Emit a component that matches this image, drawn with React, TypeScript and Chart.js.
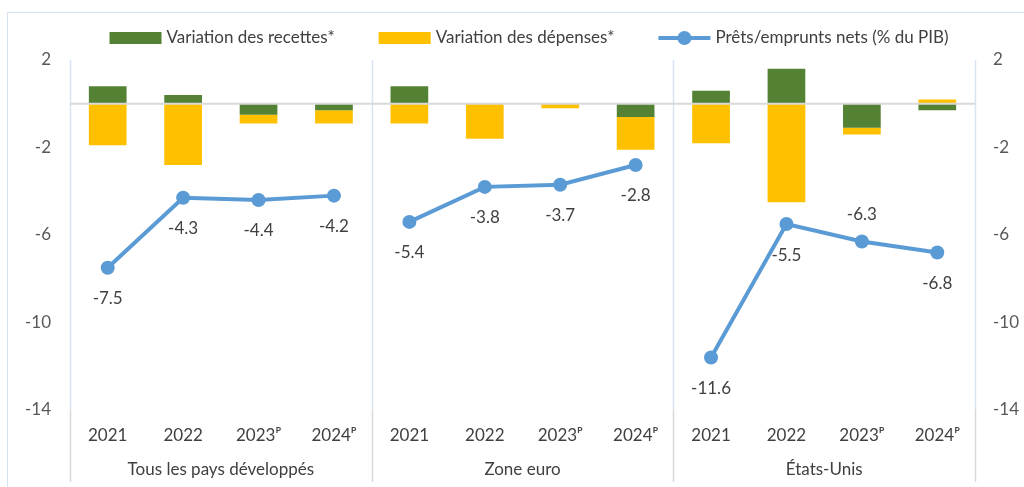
import React, { useEffect, useRef } from "react";
import { Chart, registerables } from "chart.js";

Chart.register(...registerables);

const groups = ["Tous les pays développés", "Zone euro", "États-Unis"];
const years = ["2021", "2022", "2023ᴾ", "2024ᴾ"];
const revenueChange = [0.8, 0.4, -0.5, -0.3, 0.8, 0.0, 0.0, -0.6, 0.6, 1.6, -1.1, -0.3];
const spendingChange = [-1.9, -2.8, -0.4, -0.6, -0.9, -1.6, -0.2, -1.5, -1.8, -4.5, -0.3, 0.2];
const netLending = [-7.5, -4.3, -4.4, -4.2, -5.4, -3.8, -3.7, -2.8, -11.6, -5.5, -6.3, -6.8];
const labelAbove = [false, false, false, false, false, false, false, false, false, false, true, false];
const seriesNames = ["Variation des recettes*", "Variation des dépenses*", "Prêts/emprunts nets (% du PIB)"];
const yMin = -14;
const yMax = 2;
const yStep = 4;

const GREEN = "#548235";
const YELLOW = "#FFC000";
const BLUE = "#5B9BD5";
const TEXT = "#404040";
const FONT = "Lato";
const FS = 17;

const categories = groups.flatMap(() => years);

const decorPlugin = {
  id: "decor",
  beforeDraw(chart: any) {
    const { ctx } = chart;
    ctx.save();
    ctx.strokeStyle = "#D6E2F2";
    ctx.lineWidth = 1;
    ctx.strokeRect(7.5, 12.5, 1200, 1000);
    ctx.restore();
  },
  beforeDatasetsDraw(chart: any) {
    const { ctx, chartArea, scales } = chart;
    const x = scales.x;
    const bounds: number[] = [chartArea.left];
    for (let g = 1; g < groups.length; g++) {
      const i = g * years.length;
      bounds.push((x.getPixelForValue(i - 1) + x.getPixelForValue(i)) / 2);
    }
    bounds.push(chartArea.right);
    ctx.save();
    bounds.forEach((bx) => {
      const px = Math.round(bx) + 0.5;
      ctx.strokeStyle = "#D6E4F3";
      ctx.lineWidth = 1.5;
      ctx.beginPath();
      ctx.moveTo(px, chartArea.top);
      ctx.lineTo(px, chartArea.bottom);
      ctx.stroke();
      ctx.strokeStyle = "#D9D9D9";
      ctx.beginPath();
      ctx.moveTo(px, chartArea.bottom);
      ctx.lineTo(px, chartArea.bottom + 72);
      ctx.stroke();
    });
    ctx.restore();
  },
  afterDatasetsDraw(chart: any) {
    const { ctx, chartArea, scales } = chart;
    const y0 = scales.y.getPixelForValue(0);
    ctx.save();
    ctx.strokeStyle = "#D9D9D9";
    ctx.lineWidth = 2;
    ctx.beginPath();
    ctx.moveTo(chartArea.left, y0);
    ctx.lineTo(chartArea.right, y0);
    ctx.stroke();

    // data labels for the line
    const meta = chart.getDatasetMeta(2);
    ctx.font = `${FS}px ${FONT}`;
    ctx.fillStyle = TEXT;
    ctx.textAlign = "center";
    ctx.textBaseline = "middle";
    meta.data.forEach((pt: any, i: number) => {
      const v = netLending[i];
      const dy = labelAbove[i] ? -27 : 31;
      ctx.fillText(v.toFixed(1), pt.x, pt.y + dy);
    });
    ctx.restore();
  },
  afterDraw(chart: any) {
    const { ctx, chartArea, scales } = chart;
    const x = scales.x;
    ctx.save();
    ctx.font = `${FS}px ${FONT}`;
    ctx.fillStyle = TEXT;
    ctx.textAlign = "center";
    ctx.textBaseline = "middle";
    groups.forEach((g, gi) => {
      const a = x.getPixelForValue(gi * years.length);
      const b = x.getPixelForValue(gi * years.length + years.length - 1);
      ctx.fillText(g, (a + b) / 2, chartArea.bottom + 60);
    });

    // legend
    const boxW = 52;
    const gapIn = 5;
    const gapOut = 44;
    const widths = seriesNames.map((s) => ctx.measureText(s).width);
    const total = widths.reduce((s, w) => s + w + boxW + gapIn, 0) + gapOut * (seriesNames.length - 1);
    let cx = 529 - total / 2;
    const ly = 38;
    ctx.textAlign = "left";
    seriesNames.forEach((s, i) => {
      if (i < 2) {
        ctx.fillStyle = i === 0 ? GREEN : YELLOW;
        ctx.fillRect(cx, ly - 6, boxW, 12);
      } else {
        ctx.strokeStyle = BLUE;
        ctx.lineWidth = 4;
        ctx.beginPath();
        ctx.moveTo(cx, ly);
        ctx.lineTo(cx + boxW, ly);
        ctx.stroke();
        ctx.fillStyle = BLUE;
        ctx.beginPath();
        ctx.arc(cx + boxW / 2, ly, 7, 0, Math.PI * 2);
        ctx.fill();
      }
      ctx.fillStyle = TEXT;
      ctx.fillText(s, cx + boxW + gapIn, ly);
      cx += boxW + gapIn + widths[i] + gapOut;
    });
    ctx.restore();
  },
};

export default function App() {
  const ref = useRef<HTMLCanvasElement>(null);
  useEffect(() => {
    if (!ref.current) return;
    const chart = new Chart(ref.current, {
      type: "bar",
      data: {
        labels: categories,
        datasets: [
          {
            type: "bar",
            label: seriesNames[0],
            data: revenueChange,
            backgroundColor: GREEN,
            stack: "bars",
            order: 1,
            yAxisID: "y",
            categoryPercentage: 0.5,
            barPercentage: 1,
          } as any,
          {
            type: "bar",
            label: seriesNames[1],
            data: spendingChange,
            backgroundColor: YELLOW,
            stack: "bars",
            order: 2,
            yAxisID: "y",
            categoryPercentage: 0.5,
            barPercentage: 1,
          } as any,
          {
            type: "line",
            label: seriesNames[2],
            data: netLending,
            borderColor: BLUE,
            backgroundColor: BLUE,
            borderWidth: 4,
            pointRadius: 7,
            pointBackgroundColor: BLUE,
            pointBorderColor: BLUE,
            pointBorderWidth: 0,
            stack: "line",
            order: 0,
            yAxisID: "y",
            segment: {
              borderColor: (c: any) => (c.p1DataIndex % years.length === 0 ? "rgba(0,0,0,0)" : BLUE),
            },
          } as any,
        ],
      },
      options: {
        animation: false,
        responsive: false,
        maintainAspectRatio: false,
        layout: { padding: { top: 60, left: 0, right: 0, bottom: 0 } },
        plugins: { legend: { display: false }, tooltip: { enabled: false } },
        scales: {
          x: {
            stacked: true,
            grid: { display: false, drawTicks: false },
            border: { display: false },
            ticks: {
              color: TEXT,
              font: { family: FONT, size: FS },
              padding: 15,
              autoSkip: false,
              maxRotation: 0,
            },
            afterFit: (s: any) => {
              s.height = 77;
            },
          },
          y: {
            stacked: true,
            position: "left",
            min: yMin,
            max: yMax,
            grid: { display: false, drawTicks: false },
            border: { display: false },
            ticks: {
              stepSize: yStep,
              color: "#595959",
              font: { family: FONT, size: FS },
              padding: 19,
            },
            afterFit: (s: any) => {
              s.width = 70;
            },
          },
          y2: {
            position: "right",
            min: yMin,
            max: yMax,
            grid: { display: false, drawTicks: false },
            border: { display: false },
            ticks: {
              stepSize: yStep,
              color: "#595959",
              font: { family: FONT, size: FS },
              padding: 18,
            },
            afterFit: (s: any) => {
              s.width = 49;
            },
          },
        },
      } as any,
      plugins: [decorPlugin],
    });
    return () => chart.destroy();
  }, []);
  return (
    <div style={{ position: "absolute", left: 0, top: 0, width: 1024, height: 487 }}>
      <canvas ref={ref} width={1024} height={487} style={{ width: 1024, height: 487 }} />
    </div>
  );
}
